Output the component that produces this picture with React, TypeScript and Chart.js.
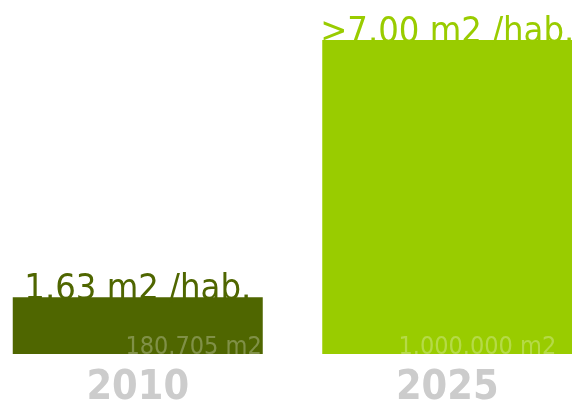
import React, { useEffect, useRef } from "react";
import { Chart, registerables } from "chart.js";

Chart.register(...registerables);

const categories = ["2010", "2025"];
const areaValues = [180705, 1000000];
const topLabels = ["1.63 m2 /hab.", ">7.00 m2 /hab."];
const innerLabels = ["180.705 m2", "1.000.000 m2"];
const barColors = ["#4f6600", "#99cc00"];

const FONT = "'DejaVu Sans Condensed', 'DejaVu Sans', sans-serif";

const labelPlugin = {
  id: "barLabels",
  afterDatasetsDraw(chart: any, _args: any, opts: any) {
    const ctx = chart.ctx;
    const meta = chart.getDatasetMeta(0);
    meta.data.forEach((bar: any, i: number) => {
      const { x, y, base, width } = bar.getProps(["x", "y", "base", "width"], true);
      ctx.save();
      ctx.font = `normal 36px ${FONT}`;
      ctx.fillStyle = barColors[i];
      ctx.textAlign = "center";
      ctx.textBaseline = "alphabetic";
      ctx.fillText(topLabels[i], x, y + 1.5);
      ctx.font = `normal 25px ${FONT}`;
      ctx.fillStyle = "rgba(255,255,255,0.28)";
      ctx.textAlign = "right";
      ctx.fillText(innerLabels[i], x + width / 2 - opts.insetRight[i], base);
      ctx.restore();
    });
  },
};

export default function App() {
  const ref = useRef<HTMLCanvasElement | null>(null);
  useEffect(() => {
    if (!ref.current) return;
    const chart = new Chart(ref.current, {
      type: "bar",
      data: {
        labels: categories,
        datasets: [
          {
            data: areaValues,
            backgroundColor: barColors,
            borderWidth: 0,
            barPercentage: 250 / 309.5,
            categoryPercentage: 1,
          },
        ],
      },
      options: {
        animation: false,
        responsive: true,
        maintainAspectRatio: false,
        layout: { padding: { top: 40, bottom: 0, left: 0, right: 0 } },
        plugins: {
          legend: { display: false },
          tooltip: { enabled: false },
          barLabels: { insetRight: [1, 16] },
        } as any,
        scales: {
          x: {
            grid: { display: false, drawTicks: false },
            border: { display: false },
            ticks: {
              color: "#cccccc",
              padding: 14,
              font: { family: FONT, size: 41, weight: "bold", lineHeight: 1 },
            },
          },
          y: {
            display: false,
            min: 0,
            max: 1000000,
          },
        },
      },
      plugins: [labelPlugin],
    });
    return () => chart.destroy();
  }, []);
  return (
    <div style={{ position: "fixed", left: -17, top: 0, width: 619, height: 423 }}>
      <canvas ref={ref} />
    </div>
  );
}
